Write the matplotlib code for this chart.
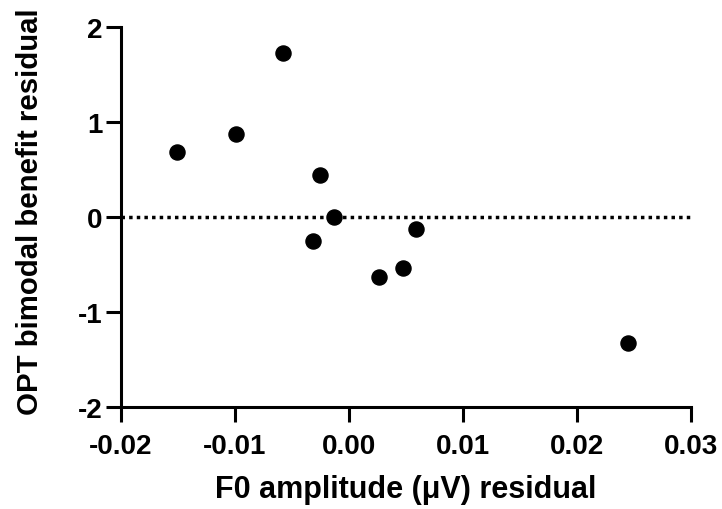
import matplotlib

matplotlib.use("Agg")

import matplotlib.pyplot as plt

# residuals
f0_residual = [-0.0151, -0.0099, -0.00575, -0.00253, -0.00130, -0.00312,
               0.00590, 0.00479, 0.00262, 0.0245]
benefit_residual = [0.684, 0.877, 1.73, 0.448, 0.0, -0.253,
                    -0.123, -0.537, -0.632, -1.32]

x_ticks = [-0.02, -0.01, 0.00, 0.01, 0.02, 0.03]
y_ticks = [-2, -1, 0, 1, 2]

plt.rcParams["font.family"] = ["Liberation Sans", "DejaVu Sans"]
plt.rcParams["font.weight"] = "bold"

fig = plt.figure(figsize=(7.22, 5.10), dpi=100)
ax = fig.add_axes([0.1676, 0.1994, 0.7890, 0.7451])

ax.axhline(0, color="black", linewidth=2.5, linestyle=(0, (1, 1.2)), zorder=1)
ax.scatter(f0_residual, benefit_residual, s=118, color="black", zorder=3)

ax.set_xlim(-0.02, 0.03)
ax.set_ylim(-2, 2)
ax.set_xticks(x_ticks)
ax.set_xticklabels([f"{v:.2f}" for v in x_ticks])
ax.set_yticks(y_ticks)
ax.set_yticklabels([str(v) for v in y_ticks])

for side in ["top", "right"]:
    ax.spines[side].set_visible(False)
for side in ["left", "bottom"]:
    ax.spines[side].set_linewidth(2.2)
ax.tick_params(width=2.2, length=11, labelsize=20)
ax.tick_params(axis="x", pad=7.5)
ax.tick_params(axis="y", pad=2.5)
for lbl in ax.get_xticklabels() + ax.get_yticklabels():
    lbl.set_fontweight("bold")

ax.set_xlabel("F0 amplitude (μV) residual", fontsize=22, fontweight="bold")
ax.set_ylabel("OPT bimodal benefit residual", fontsize=21.2, fontweight="bold")
ax.xaxis.set_label_coords(0.5, -0.1755)
ax.yaxis.set_label_coords(-0.135, 0.518)

fig.savefig("out.png", dpi=100)
